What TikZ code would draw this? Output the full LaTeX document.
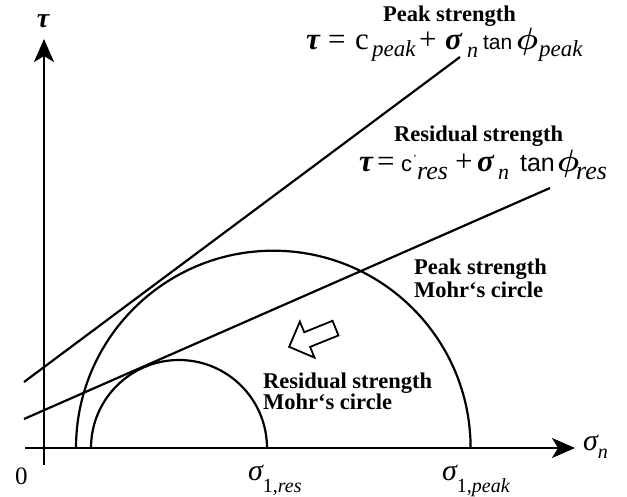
\RequirePackage{fix-cm}
\documentclass[tikz,border=0pt]{standalone}
\usepackage{fontspec}
\setmainfont{Liberation Serif}
\newfontfamily\sansf{Liberation Sans}
\usetikzlibrary{arrows.meta,shapes.arrows}
\newcommand\fs[1]{\fontsize{#1}{#1}\selectfont}
\newcommand\pc[2]{\makebox[#1pt][l]{#2}}
\newcommand\lo[3]{\raisebox{-#1pt}{\fs{#2}\itshape #3}}
\newcommand\gk[1]{{\bfseries\itshape #1}}
\newcommand\bphi{{\boldmath$\phi$}}
\begin{document}
\begin{tikzpicture}[x=1pt,y=-1pt,line width=2.2pt,
  lbl/.style={font=\fs{22.5}\bfseries,inner sep=0pt,anchor=base west},
  frm/.style={inner sep=0pt,anchor=base west},
  axtip/.style={-{Stealth[length=23pt,width=20pt,inset=6pt]}}]
\useasboundingbox (0,0) rectangle (627,497);
% axes
\coordinate (ys) at (44,465);
\coordinate (ye) at (44,39);
\coordinate (xs) at (25,448);
\coordinate (xe) at (575,448);
\draw[axtip] (ys) -- (ye);
\draw[axtip] (xs) -- (xe);
% envelopes
\coordinate (ps) at (24,382);
\coordinate (pe) at (460,57);
\coordinate (rs) at (24,419);
\coordinate (re) at (550,188);
\draw (ps) -- (pe);
\draw (rs) -- (re);
% Mohr circles
\coordinate (bl) at (76,448);
\coordinate (sl) at (91,448);
\draw (bl) arc[start angle=180,end angle=0,radius=197.3pt];
\draw (sl) arc[start angle=180,end angle=0,radius=88pt];
% hollow arrow
\node[draw,single arrow,minimum height=50pt,minimum width=37pt,
  single arrow head extend=11.5pt,inner sep=7pt,rotate=202,line width=1.8pt] (ha) at (316,336) {};
% axis labels
\node[inner sep=0pt,anchor=base] (tau) at (43,28) {\fs{28}\gk{τ}};
\node[frm] (sn) at (582,450) {\fs{30}\itshape σ\lo{8}{20}{n}};
\node[frm] (zero) at (14,484) {\fs{25}0};
\node[frm] (s1r) at (247,480) {\fs{30}\itshape σ\raisebox{-12pt}{\fs{20}\upshape 1\itshape ,res}};
\node[frm] (s1p) at (441,480) {\fs{30}\itshape σ\raisebox{-12pt}{\fs{20}\upshape 1\itshape ,peak}};
% peak strength envelope label
\node[lbl] (pt) at (382,22) {Peak strength};
\node[frm] (pf) at (305,50) {\fs{31}%
  \pc{22}{\gk{τ}}\pc{27}{=}\pc{17}{c}\pc{47}{\lo{7}{23}{peak}}\pc{26}{+}%
  \pc{22}{\gk{σ}}\pc{16}{\lo{8}{22}{n}}\pc{33}{\sansf\fs{21}tan}\pc{23}{\bphi}\lo{7}{23}{peak}};
% residual strength envelope label
\node[lbl] (rt) at (393,142) {Residual strength};
\node[frm] (rf) at (358,172) {\fs{31}%
  \pc{18}{\gk{τ}}\pc{24}{=}\pc{12}{\sansf\fs{22}c}\pc{4}{\raisebox{9pt}{\fs{11}'}}\pc{38}{\lo{8}{26}{res}}\pc{22}{+}%
  \pc{21}{\gk{σ}}\pc{22}{\lo{8}{22}{n}}\pc{37}{\sansf\fs{25}tan}\pc{19}{\bphi}\lo{8}{26}{res}};
% Mohr circle labels
\node[lbl] (pm1) at (413,275) {Peak strength};
\node[lbl] (pm2) at (413,298) {Mohr‘s circle};
\node[lbl] (rm1) at (262,388) {Residual strength};
\node[lbl] (rm2) at (262,409) {Mohr‘s circle};
\end{tikzpicture}
\end{document}
